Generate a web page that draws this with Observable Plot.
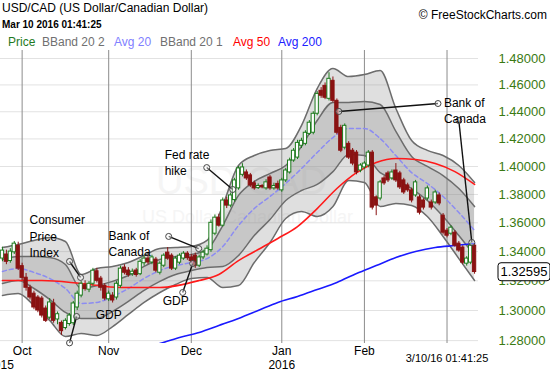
<!DOCTYPE html>
<html><head><meta charset="utf-8">
<script src="https://cdn.jsdelivr.net/npm/d3@7"></script>
<script src="https://cdn.jsdelivr.net/npm/@observablehq/plot@0.6"></script>
<style>
body{margin:0;background:#fff;font-family:"Liberation Sans",Arial,sans-serif;}
#wrap{position:relative;width:550px;height:375px;overflow:hidden;background:#fff}
#hdr{position:relative;height:50px}
.t{position:absolute;white-space:nowrap;line-height:14px}
#chart svg{display:block}
</style></head><body>
<div id="wrap">
<div id="hdr"></div>
<div id="chart"></div>
</div>
<script>
// ---------- data ----------
const title = "USD/CAD (US Dollar/Canadian Dollar)";
const stamp = "Mar 10 2016 01:41:25";
const credit = "© FreeStockCharts.com";
const legendNames = ["Price","BBand 20 2","Avg 20","BBand 20 1","Avg 50","Avg 200"];
const legendColors = ["#1f7a1f","#707070","#8080ff","#707070","#ff0000","#2020ff"];

const open = [1.3352,1.3380,1.3335,1.3395,1.3440,1.3300,1.3221,1.3153,1.3113,1.3087,
1.3080,1.3013,1.2952,1.3047,1.2940,1.2917,1.2883,1.2910,1.2915,1.3020,
1.3100,1.3170,1.3140,1.3180,1.3265,1.3215,1.3166,1.3075,1.3100,1.3087,
1.3166,1.3290,1.3270,1.3245,1.3270,1.3245,1.3320,1.3352,1.3325,1.3345,
1.3255,1.3303,1.3393,1.3372,1.3283,1.3324,1.3352,1.3386,1.3360,1.3372,
1.3303,1.3360,1.3380,1.3410,1.3524,1.3636,1.3580,1.3757,1.3721,1.3760,
1.3843,1.3940,1.3957,1.3936,1.3879,1.3845,1.3860,1.3843,1.3921,1.3843,
1.3875,1.3829,1.3900,1.3957,1.4043,1.4064,1.4150,1.4164,1.4237,1.4245,
1.4385,1.4556,1.4593,1.4496,1.4631,1.4481,1.4281,1.4136,1.4164,1.4114,
1.4100,1.3971,1.3993,1.4007,1.4100,1.3779,1.3771,1.3914,1.3950,1.3914,
1.3971,1.3950,1.3900,1.3864,1.3829,1.3793,1.3779,1.3757,1.3771,1.3743,
1.3743,1.3793,1.3650,1.3545,1.3524,1.3531,1.3455,1.3428,1.3317,1.3324,
1.3441];
const high = [1.3430,1.3410,1.3420,1.3470,1.3465,1.3320,1.3250,1.3170,1.3130,1.3100,
1.3095,1.3030,1.3080,1.3075,1.2990,1.2930,1.2945,1.2980,1.3060,1.3130,
1.3195,1.3200,1.3195,1.3285,1.3285,1.3230,1.3180,1.3130,1.3120,1.3195,
1.3300,1.3310,1.3290,1.3280,1.3285,1.3345,1.3370,1.3375,1.3375,1.3360,
1.3330,1.3385,1.3428,1.3385,1.3365,1.3385,1.3400,1.3400,1.3380,1.3390,
1.3375,1.3410,1.3440,1.3620,1.3655,1.3660,1.3775,1.3780,1.3810,1.3915,
1.4000,1.4020,1.3975,1.3950,1.3895,1.3875,1.3870,1.3905,1.3935,1.3880,
1.3895,1.3915,1.3985,1.4060,1.4130,1.4190,1.4205,1.4260,1.4335,1.4400,
1.4550,1.4580,1.4615,1.4692,1.4660,1.4495,1.4300,1.4310,1.4180,1.4130,
1.4115,1.4020,1.4035,1.4115,1.4115,1.3790,1.3900,1.3930,1.3965,1.3975,
1.4021,1.3965,1.3915,1.3880,1.3845,1.3900,1.3795,1.3770,1.3860,1.3760,
1.3830,1.3810,1.3665,1.3560,1.3580,1.3545,1.3470,1.3440,1.3365,1.3460,
1.3455];
const low = [1.3330,1.3310,1.3320,1.3380,1.3270,1.3200,1.3130,1.3070,1.3005,1.2985,
1.2950,1.2920,1.2940,1.2915,1.2905,1.2835,1.2870,1.2895,1.2900,1.3000,
1.3085,1.3130,1.3120,1.3165,1.3185,1.3130,1.3065,1.3060,1.3050,1.3070,
1.3150,1.3240,1.3225,1.3230,1.3225,1.3235,1.3300,1.3310,1.3310,1.3255,
1.3240,1.3290,1.3340,1.3270,1.3270,1.3310,1.3340,1.3340,1.3320,1.3285,
1.3290,1.3345,1.3370,1.3395,1.3510,1.3570,1.3570,1.3700,1.3705,1.3745,
1.3830,1.3925,1.3900,1.3850,1.3830,1.3835,1.3840,1.3830,1.3830,1.3830,
1.3830,1.3815,1.3885,1.3945,1.4030,1.4050,1.4130,1.4150,1.4225,1.4230,
1.4370,1.4500,1.4490,1.4480,1.4465,1.4230,1.4100,1.4120,1.4050,1.4005,
1.3940,1.3955,1.3980,1.3990,1.3690,1.3650,1.3755,1.3865,1.3885,1.3900,
1.3885,1.3835,1.3800,1.3815,1.3740,1.3780,1.3655,1.3690,1.3755,1.3690,
1.3730,1.3720,1.3515,1.3495,1.3510,1.3430,1.3395,1.3310,1.3300,1.3310,
1.3245];
const close = [1.3407,1.3330,1.3400,1.3455,1.3283,1.3220,1.3153,1.3087,1.3020,1.3000,
1.2966,1.2931,1.3054,1.2931,1.2975,1.2862,1.2931,1.2966,1.3047,1.3113,
1.3180,1.3145,1.3180,1.3269,1.3200,1.3153,1.3080,1.3113,1.3067,1.3180,
1.3283,1.3255,1.3240,1.3262,1.3240,1.3330,1.3352,1.3325,1.3360,1.3269,
1.3317,1.3372,1.3352,1.3283,1.3352,1.3372,1.3386,1.3355,1.3335,1.3303,
1.3360,1.3393,1.3420,1.3600,1.3636,1.3580,1.3757,1.3721,1.3793,1.3900,
1.3986,1.3993,1.3914,1.3864,1.3843,1.3860,1.3850,1.3886,1.3843,1.3860,
1.3843,1.3900,1.3971,1.4043,1.4114,1.4171,1.4186,1.4245,1.4319,1.4385,
1.4533,1.4519,1.4504,1.4646,1.4481,1.4245,1.4114,1.4296,1.4064,1.4021,
1.3957,1.4007,1.4021,1.4100,1.3707,1.3721,1.3886,1.3879,1.3900,1.3957,
1.3900,1.3850,1.3814,1.3829,1.3757,1.3886,1.3671,1.3707,1.3843,1.3707,
1.3814,1.3736,1.3531,1.3510,1.3566,1.3441,1.3407,1.3324,1.3352,1.3441,
1.3260];
const lastQuote = 1.32595;

// Bollinger / average values read every 4th bar
const bandIdx = [0,4,8,12,16,20,24,28,32,36,40,44,48,52,56,60,64,68,72,76,80,84,88,92,96,100,104,108,112,116,120];
const bbUpper2 = [1.3428,1.3449,1.3477,1.3498,1.3470,1.3243,1.3284,1.3298,1.3325,1.3373,1.3421,1.3428,1.3435,1.3477,1.3722,1.4007,1.4079,1.4116,1.4130,1.4298,1.4573,1.4724,1.4663,1.4678,1.4709,1.4424,1.4188,1.4116,1.4079,1.4007,1.3885];
const bbUpper1 = [1.3345,1.3366,1.3366,1.3359,1.3311,1.3148,1.3168,1.3196,1.3236,1.3298,1.3345,1.3366,1.3380,1.3414,1.3581,1.3793,1.3892,1.3949,1.4007,1.4145,1.4335,1.4469,1.4469,1.4476,1.4454,1.4255,1.4072,1.4000,1.3935,1.3842,1.3714];
const avg20 = [1.3264,1.3284,1.3257,1.3216,1.3148,1.3047,1.3054,1.3094,1.3148,1.3216,1.3270,1.3304,1.3325,1.3352,1.3435,1.3581,1.3700,1.3785,1.3878,1.3985,1.4101,1.4210,1.4277,1.4277,1.4203,1.4079,1.3956,1.3878,1.3785,1.3672,1.3546];
const bbLower1 = [1.3182,1.3202,1.3148,1.3074,1.2987,1.2947,1.2947,1.2994,1.3061,1.3135,1.3196,1.3243,1.3270,1.3291,1.3298,1.3373,1.3511,1.3623,1.3757,1.3828,1.3871,1.3963,1.4087,1.4079,1.3956,1.3907,1.3842,1.3757,1.3644,1.3511,1.3373];
const bbLower2 = [1.3101,1.3114,1.3034,1.2934,1.2827,1.2847,1.2834,1.2893,1.2974,1.3054,1.3121,1.3175,1.3216,1.3223,1.3155,1.3168,1.3325,1.3463,1.3630,1.3679,1.3644,1.3714,1.3900,1.3885,1.3714,1.3736,1.3722,1.3644,1.3505,1.3352,1.3202];

const ma50Idx = [0,10,20,30,40,50,55,60,65,70,75,80,85,90,95,100,105,110,115,120];
const ma50 = [1.3202,1.3202,1.3182,1.3155,1.3155,1.3202,1.3243,1.3338,1.3414,1.3491,1.3574,1.3700,1.3842,1.3956,1.4029,1.4058,1.4050,1.4021,1.3963,1.3871];
const ma200Idx = [38,40,45,50,55,60,65,70,75,80,85,90,95,100,105,110,115,120];
const ma200 = [1.2765,1.2781,1.2821,1.2854,1.2900,1.2947,1.3000,1.3054,1.3094,1.3141,1.3189,1.3250,1.3304,1.3359,1.3400,1.3428,1.3442,1.3456];

const yTicks = [1.28,1.30,1.32,1.34,1.36,1.38,1.40,1.42,1.44,1.46,1.48];
const monthLabels = ["Oct","Nov","Dec","Jan","Feb"];
const yearLabels = ["2015","2016"];
const axisStamp = "3/10/16 01:41:25";

// annotations (bar index, price)
const annX1 = [17.05,18.84,42.25,45.81,51.92,110.7,116.0];
const annY1 = [1.3332,1.2960,1.3505,1.3121,1.3992,1.4461,1.4335];
const annX2 = [19.85,17.05,49.88,48.35,58.53,85.5,119.3];
const annY2 = [1.3223,1.2785,1.3421,1.3318,1.3835,1.4402,1.3463];
const annText = ["Consumer\nPrice\nIndex","GDP","Bank of\nCanada","GDP","Fed rate\nhike","Bank of\nCanada"];
const annTX = [6.88,23.7,26.98,40.72,41.23,112.2];
const annTY = [1.3512,1.2980,1.3463,1.3074,1.4036,1.4417];

// ---------- header ----------
const hdr = document.getElementById("hdr");
function addT(txt, css){const d=document.createElement("div");d.className="t";d.textContent=txt;d.style.cssText+=css;hdr.appendChild(d);return d;}
addT(title,"left:2px;top:1px;font-size:12px;color:#000;");
addT(stamp,"left:2px;top:18px;font-size:10px;font-weight:bold;color:#000;");
addT(credit,"right:3px;top:8px;font-size:12px;color:#000;");
const legX = [8,42,114,160,233,278];
legendNames.forEach((n,k)=>addT(n,`left:${legX[k]}px;top:35px;font-size:12px;color:${legendColors[k]};`));

// ---------- chart ----------
const dates = d3.timeDay.range(new Date(2015,8,24), new Date(2016,2,11)).filter(d => d.getDay()!==0 && d.getDay()!==6);
const monthIdx = [];
dates.forEach((d,i)=>{ if(i>0 && d.getMonth()!==dates[i-1].getMonth()) monthIdx.push(i); });
const bars = close.map((c,i)=>({i, o:open[i], h:high[i], l:low[i], c, up:c>=open[i]}));
const bands = bandIdx.map((i,k)=>({i,u2:bbUpper2[k],u1:bbUpper1[k],m:avg20[k],l1:bbLower1[k],l2:bbLower2[k]}));
const m50 = ma50Idx.map((i,k)=>({i,v:ma50[k]}));
const m200 = ma200Idx.map((i,k)=>({i,v:ma200[k]}));
const anns = annX1.map((x,k)=>({x1:x,y1:annY1[k],x2:annX2[k],y2:annY2[k]}));
const annEnds = anns.flatMap(a=>[{x:a.x1,y:a.y1},{x:a.x2,y:a.y2}]);
const labels = annText.map((t,k)=>({t,x:annTX[k],y:annTY[k]}));
const monthTicks = monthLabels.map((m,k)=>({i:monthIdx[k], m}));
const yearTicks = [{i:-0.5,t:yearLabels[0]},{i:monthIdx[3],t:yearLabels[1]}];

const UP="#1c7a1c", DN="#8a1212", BANDLINE="#6c6c6c";
const curve="monotone-x";
const chart = Plot.plot({
  width:550, height:325,
  marginTop:0, marginLeft:0, marginRight:72, marginBottom:32,
  x:{domain:[-0.5,121], axis:null},
  y:{type:"log", domain:[1.2781,1.4861], axis:null},
  style:{fontFamily:'"Liberation Sans",Arial,sans-serif', fontSize:"12px", background:"#fff", overflow:"visible"},
  marks:[
    Plot.text(["USD/CAD"],{frameAnchor:"middle", dx:2, dy:-15, fontSize:38, fill:"#f5f5f5", text:d=>d}),
    Plot.text(["US Dollar/Canadian Dollar"],{frameAnchor:"middle", dx:8, dy:20, fontSize:18, fill:"#f5f5f5", text:d=>d}),
    Plot.ruleY(yTicks,{stroke:"#e2e2e2", strokeWidth:1}),
    Plot.ruleX(monthIdx,{stroke:"#8c8c8c", strokeWidth:1}),
    Plot.areaY(bands,{x:"i", y1:"l2", y2:"u2", fill:"#8a8a8a", fillOpacity:0.27, curve, clip:true}),
    Plot.areaY(bands,{x:"i", y1:"l1", y2:"u1", fill:"#8a8a8a", fillOpacity:0.27, curve, clip:true}),
    Plot.lineY(bands,{x:"i", y:"u2", stroke:BANDLINE, strokeWidth:1.5, curve, clip:true}),
    Plot.lineY(bands,{x:"i", y:"l2", stroke:BANDLINE, strokeWidth:1.5, curve, clip:true}),
    Plot.lineY(bands,{x:"i", y:"u1", stroke:BANDLINE, strokeWidth:1.5, curve, clip:true}),
    Plot.lineY(bands,{x:"i", y:"l1", stroke:BANDLINE, strokeWidth:1.5, curve, clip:true}),
    Plot.lineY(bands,{x:"i", y:"m", stroke:"#8c8cf2", strokeWidth:1.5, strokeDasharray:"4,3", curve, clip:true}),
    Plot.lineY(m50,{x:"i", y:"v", stroke:"#ff1a1a", strokeWidth:1.6, curve, clip:true}),
    Plot.lineY(m200,{x:"i", y:"v", stroke:"#1a1aff", strokeWidth:1.6, curve, clip:true}),
    Plot.ruleX(bars,{x:"i", y1:"l", y2:"h", stroke:d=>d.up?UP:DN, strokeWidth:1}),
    Plot.rect(bars,{x1:d=>d.i-0.42, x2:d=>d.i+0.42, y1:"o", y2:"c", fill:d=>d.up?"#ffffff":DN, stroke:d=>d.up?UP:DN, strokeWidth:1}),
    Plot.link(anns,{x1:"x1", y1:"y1", x2:"x2", y2:"y2", stroke:"#111", strokeWidth:1.4}),
    Plot.dot(annEnds,{x:"x", y:"y", r:3, fill:"#fff", fillOpacity:0.4, stroke:"#444", strokeWidth:1}),
    Plot.text(labels,{x:"x", y:"y", text:"t", textAnchor:"start", lineAnchor:"middle", lineHeight:1.35, fontSize:12, fill:"#000"}),
    Plot.text(yTicks,{y:d=>d, frameAnchor:"right", dx:20, textAnchor:"start", text:d=>d.toFixed(5), fill:"#3a7a12", fontSize:13}),
    Plot.text([lastQuote],{y:d=>d, frameAnchor:"right", dx:22, textAnchor:"start", text:d=>d.toFixed(5), fill:"#000", fontSize:13}),
    Plot.text(monthTicks,{x:"i", frameAnchor:"bottom", dy:11, text:"m", fontSize:12, fill:"#000"}),
    Plot.text([axisStamp],{x:()=>monthIdx[5], frameAnchor:"bottom", dy:18, text:d=>d, fontSize:11, fill:"#000"}),
    Plot.text(yearTicks,{x:"i", frameAnchor:"bottom", dy:25, text:"t", fontSize:12, fill:"#000"})
  ]
});
document.getElementById("chart").appendChild(chart);
// box round the last quote (same local frame as its text)
const lastTxt = [...chart.querySelectorAll("text")].find(t=>t.textContent===lastQuote.toFixed(5));
if(lastTxt){
  const bb = lastTxt.getBBox();
  const r = document.createElementNS("http://www.w3.org/2000/svg","rect");
  r.setAttribute("x",bb.x-2.5); r.setAttribute("y",bb.y-1.5);
  r.setAttribute("width",bb.width+5); r.setAttribute("height",bb.height+3);
  r.setAttribute("rx",3); r.setAttribute("fill","#fff"); r.setAttribute("stroke","#000"); r.setAttribute("stroke-width",1);
  const tf = lastTxt.getAttribute("transform"); if(tf) r.setAttribute("transform",tf);
  const px = lastTxt.getAttribute("x"), py = lastTxt.getAttribute("y");
  lastTxt.parentNode.insertBefore(r,lastTxt);
}
</script>
</body></html>
